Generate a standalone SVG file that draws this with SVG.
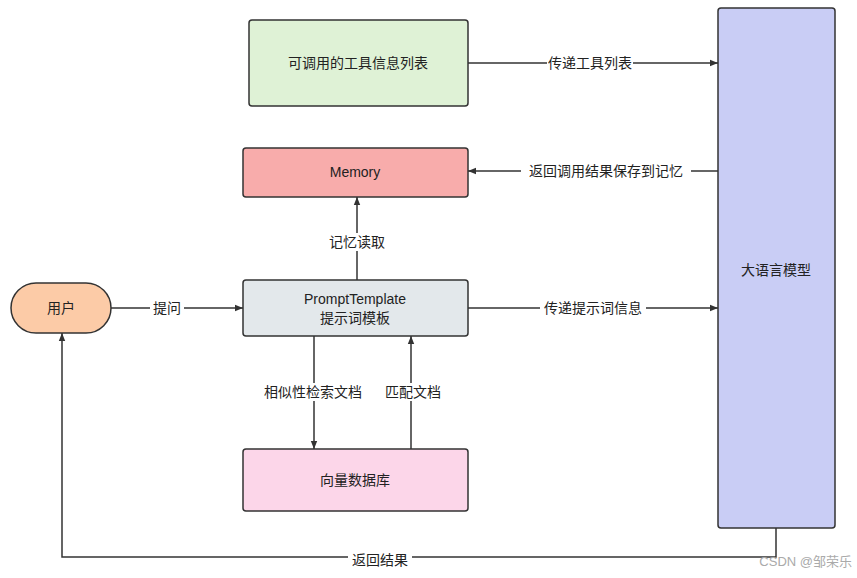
<svg xmlns="http://www.w3.org/2000/svg" width="857" height="578" viewBox="0 0 857 578">
<style>
.n{stroke:#333;stroke-width:1.5}
.t{font-family:"Liberation Sans","Noto Sans CJK SC",sans-serif;font-size:14px;fill:#222;text-anchor:middle;dominant-baseline:central}
.c{fill:none;stroke:#333;stroke-width:1.5;marker-end:url(#a)}
.lb{fill:#fff}
</style>
<defs><marker id="a" viewBox="0 0 10 10" refX="10" refY="5" markerWidth="8" markerHeight="8" orient="auto" markerUnits="userSpaceOnUse"><path d="M0,1 L10,5 L0,9 z" fill="#333"/></marker></defs>
<rect width="857" height="578" fill="#fff"/>
<g id="tools"><rect class="n" x="249" y="20" width="219" height="86" rx="3" fill="#dff2d6"/><text class="t" x="358" y="63">可调用的工具信息列表</text></g>
<g id="memory"><rect class="n" x="243" y="148" width="225" height="49" rx="3" fill="#f8acab"/><text class="t" x="355" y="172">Memory</text></g>
<g id="prompt"><rect class="n" x="243" y="280" width="225" height="56" rx="3" fill="#e3e8eb"/><text class="t" x="355" y="299">PromptTemplate</text><text class="t" x="355" y="318">提示词模板</text></g>
<g id="vdb"><rect class="n" x="243" y="449" width="225" height="62" rx="3" fill="#fcd6e9"/><text class="t" x="355" y="480">向量数据库</text></g>
<g id="user"><rect class="n" x="11" y="283" width="100" height="50" rx="25" fill="#fccba7"/><text class="t" x="61" y="308">用户</text></g>
<g id="llm"><rect class="n" x="718" y="8" width="117" height="520" rx="3" fill="#c9cdf5"/><text class="t" x="776" y="270">大语言模型</text></g>
<g id="connectors">
<path class="c" d="M468,63 H718"/><rect class="lb" x="547" y="54" width="86" height="18"/><text class="t" x="590" y="63">传递工具列表</text>
<path class="c" d="M718,171 H468"/><rect class="lb" x="521" y="162" width="170" height="18"/><text class="t" x="606" y="171">返回调用结果保存到记忆</text>
<path class="c" d="M357,280 V197"/><rect class="lb" x="326" y="233" width="62" height="18"/><text class="t" x="357" y="242">记忆读取</text>
<path class="c" d="M111,308 H243"/><rect class="lb" x="150" y="299" width="34" height="18"/><text class="t" x="167" y="308">提问</text>
<path class="c" d="M468,308 H718"/><rect class="lb" x="540" y="299" width="106" height="18"/><text class="t" x="593" y="308">传递提示词信息</text>
<path class="c" d="M314,336 V449"/><rect class="lb" x="259" y="383" width="110" height="18"/><text class="t" x="313" y="392">相似性检索文档</text>
<path class="c" d="M411,449 V336"/><rect class="lb" x="382" y="383" width="62" height="18"/><text class="t" x="413" y="392">匹配文档</text>
<path class="c" d="M776,528 V557 H62 V333"/><rect class="lb" x="348" y="551" width="64" height="18"/><text class="t" x="380" y="560">返回结果</text>
</g>
<text x="852" y="566" style="font-family:'Liberation Sans','Noto Sans CJK SC',sans-serif;font-size:13px;fill:#aaa;text-anchor:end">CSDN @邹荣乐</text>
</svg>
